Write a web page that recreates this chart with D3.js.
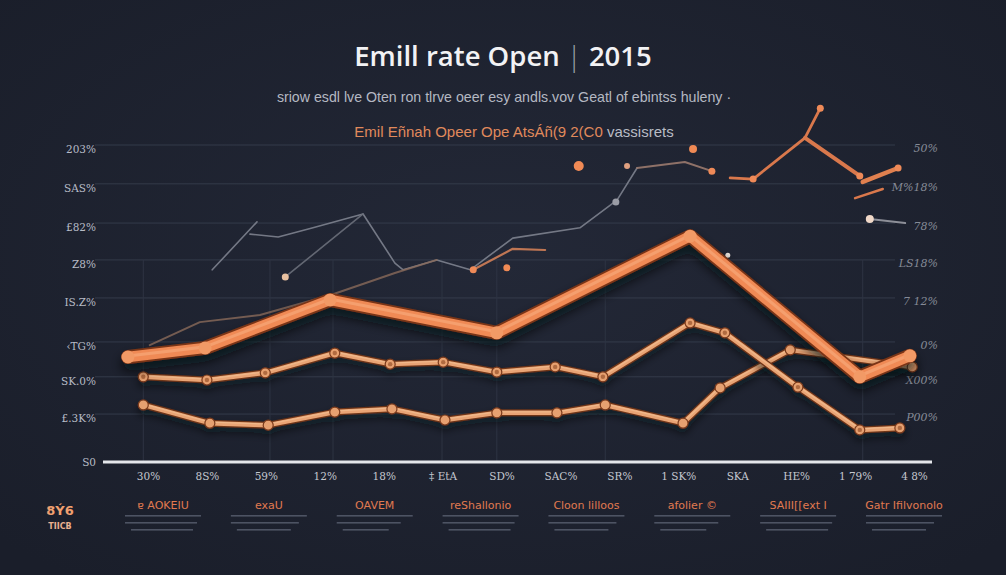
<!DOCTYPE html>
<html><head><meta charset="utf-8">
<script src="https://cdn.jsdelivr.net/npm/d3@7"></script>
<style>
html,body{margin:0;padding:0;background:#1e2230;}
svg{display:block;}
</style></head>
<body>
<svg id="c" width="1006" height="575"></svg>
<script>
// ---------- data ----------
const titleMain = "Emill rate Open";
const titleYear = "2015";
const subtitle = "sriow esdl lve Oten ron tlrve oeer esy andls.vov Geatl of ebintss huleny ·";
const legendOrange = "Emil Eñnah Opeer Ope AtsÁñ(9 2(C0";
const legendGray = " vassisrets";

const xTickLabels = ["30%","8S%","59%","12%","18%","‡ EtA","SD%","SAC%","SR%","1 SK%","SKA","HE%","1 79%","4 8%"];
const yGridValues = [12.1, 21.5, 30.3, 41.4, 51, 60.3, 70.2, 80];
const yLeftLabels = ["£.3K%","SK.0%","‹TG%","IS.Z%","Z8%","£82%","SAS%","203%"];
const yRightLabels = ["P00%","X00%","0%","7 12%","LS18%","78%","M%18%","50%"];
const yZeroLabel = "S0";
const vGridIdx = [-0.08, 2.07, 3.14, 4.99, 5.92, 7.76, 12.13];

const categories = ["ɐ AOKEIU","exaU","OAVEM","reShallonio","Cloon lilloos","afolier ©","SAIII[[ext I","Gatr Ifilvonolo"];
const cornerTop = "8Ý6", cornerBottom = "TIICB";

// main series: [index, value]
const seriesA = [[-0.34,26.5],[0.97,28.8],[3.09,40.9],[5.92,32.6],[9.2,57.0],[12.08,21.5],[12.93,26.8]];
const seriesB = [[-0.08,21.5],[1.0,20.7],[1.99,22.5],[3.17,27.5],[4.11,24.7],[5.01,25.2],[5.92,22.7],[6.91,24.0],[7.72,21.5],[9.2,35.1],[9.79,32.6],[11.03,18.9],[12.08,8.1],[12.76,8.6]];
const seriesC = [[-0.08,14.4],[1.05,9.8],[2.04,9.3],[3.17,12.6],[4.14,13.4],[5.04,10.6],[5.92,12.4],[6.94,12.4],[7.76,14.4],[9.08,9.8],[9.71,18.7],[10.9,28.3],[12.97,24.0]];

// faint fragments
const grayD1 = [[1.09,48.5],[1.85,60.6]];
const grayD2 = [[1.73,57.5],[2.21,56.8],[2.80,59.1],[3.65,62.6],[4.19,50.2],[4.33,48.5],[4.90,51.0],[5.47,48.5],[6.19,56.5],[7.33,59.1],[7.96,66.1],[8.30,74.2]];
const grayG = [[2.33,46.7],[3.65,62.6]];
const brownF = [[0.03,29.5],[0.88,35.3],[1.90,37.1],[3.09,42.1],[4.19,47.7],[4.90,51.0]];
const orangeH = [[5.52,48.5],[6.19,53.8],[6.74,53.5]];
const grayI = [[8.30,74.2],[9.11,75.7],[9.57,73.4]];
const orangeE1 = [[9.88,71.7],[10.27,71.4],[11.15,81.8],[11.41,89.3]];
const orangeE2 = [[11.15,81.8],[12.08,72.2]];
const orangeE3 = [[12.13,70.7],[12.73,74.2]];
const orangeE4 = [[12.0,66.6],[12.47,68.9]];
const whiteJ = [[12.25,61.3],[12.85,60.3]];
const looseDots = [[7.31,74.7,"#f08a55",5],[9.25,79.0,"#f08a55",4],[8.13,74.7,"#e0a080",3],[7.94,65.6,"#9a9ca5",3.5],[6.09,49.0,"#f08a55",3.5],[9.84,52.2,"#e8e0d8",2.5],[2.33,46.7,"#e8c0a0",3.5],[12.25,61.3,"#f0d8c8",4]];

// ---------- drawing ----------
const W = 1006, H = 575;
const svg = d3.select("#c");
const defs = svg.append("defs");

const bg = defs.append("radialGradient").attr("id","bg").attr("cx","50%").attr("cy","45%").attr("r","70%");
bg.append("stop").attr("offset","0%").attr("stop-color","#232837");
bg.append("stop").attr("offset","100%").attr("stop-color","#1a1e2a");
svg.append("rect").attr("width",W).attr("height",H).attr("fill","url(#bg)");

const sh = defs.append("filter").attr("id","shadow").attr("x","-10%").attr("y","-30%").attr("width","120%").attr("height","180%");
sh.append("feDropShadow").attr("dx",0).attr("dy",7).attr("stdDeviation",6).attr("flood-color","#05070c").attr("flood-opacity",0.75);
const sh2 = defs.append("filter").attr("id","shadow2").attr("x","-10%").attr("y","-30%").attr("width","120%").attr("height","180%");
sh2.append("feDropShadow").attr("dx",0).attr("dy",5).attr("stdDeviation",4).attr("flood-color","#05070c").attr("flood-opacity",0.6);

const x = d3.scaleLinear().domain([0,13]).range([148,914]);
const y = d3.scaleLinear().domain([0,80]).range([462,145]);
const line = d3.line().x(d=>x(d[0])).y(d=>y(d[1]));

// title
const t = svg.append("text").attr("x",503).attr("y",66).attr("text-anchor","middle")
  .attr("font-family","'Open Sans', sans-serif").attr("font-size",27.5).attr("font-weight",600).attr("fill","#f2f2f4");
t.append("tspan").text(titleMain);
t.append("tspan").attr("fill","#9aa0ab").attr("font-weight",300).text(" | ");
t.append("tspan").text(titleYear);

svg.append("text").attr("x",504).attr("y",102).attr("text-anchor","middle")
  .attr("font-family","'Liberation Sans', sans-serif").attr("font-size",14.2).attr("fill","#b4b8c2").text(subtitle);

const lg = svg.append("text").attr("x",514).attr("y",137).attr("text-anchor","middle")
  .attr("font-family","'Liberation Sans', sans-serif").attr("font-size",15);
lg.append("tspan").attr("fill","#e08a5c").text(legendOrange);
lg.append("tspan").attr("fill","#b9bcc5").text(legendGray);

// grid
svg.append("g").selectAll("line").data(yGridValues).join("line")
  .attr("x1",95).attr("x2",895).attr("y1",d=>y(d)).attr("y2",d=>y(d))
  .attr("stroke","#394050").attr("stroke-width",1).attr("opacity",0.8);
svg.append("g").selectAll("line").data(vGridIdx).join("line")
  .attr("x1",d=>x(d)).attr("x2",d=>x(d)).attr("y1",y(51)).attr("y2",y(0))
  .attr("stroke","#2e3443").attr("stroke-width",1);

// left axis labels
const leftAx = d3.axisLeft(y).tickValues(yGridValues).tickSize(0).tickFormat((d,i)=>yLeftLabels[i]);
const la = svg.append("g").attr("transform","translate(96,4)").call(leftAx);
la.select(".domain").remove();
la.selectAll("text").attr("font-family","'DejaVu Serif', serif").attr("font-size",10.5).attr("fill","#b7bbc6").attr("x",0);
svg.append("text").attr("x",96).attr("y",y(0)+4).attr("text-anchor","end")
  .attr("font-family","'DejaVu Serif', serif").attr("font-size",10.5).attr("fill","#b7bbc6").text(yZeroLabel);

// right axis labels
const rightAx = d3.axisLeft(y).tickValues(yGridValues).tickSize(0).tickFormat((d,i)=>yRightLabels[i]);
const ra = svg.append("g").attr("transform","translate(938,3)").call(rightAx);
ra.select(".domain").remove();
ra.selectAll("text").attr("font-family","'DejaVu Serif', serif").attr("font-style","italic").attr("font-size",11).attr("fill","#858a96").attr("x",0);

// baseline
svg.append("line").attr("x1",103).attr("x2",932).attr("y1",y(0)).attr("y2",y(0))
  .attr("stroke","#e4e6ea").attr("stroke-width",3);

// x tick labels
const xAx = d3.axisBottom(x).tickValues(d3.range(14)).tickSize(0).tickFormat((d,i)=>xTickLabels[i]);
const xa = svg.append("g").attr("transform",`translate(0,${y(0)+8})`).call(xAx);
xa.select(".domain").remove();
xa.selectAll("text").attr("font-family","'DejaVu Serif', serif").attr("font-size",10.5).attr("fill","#c4c7cf");

// category labels
const cx = d3.scalePoint().domain(categories).range([163,904]);
const cg = svg.append("g");
categories.forEach((c,i)=>{
  const g = cg.append("g").attr("transform",`translate(${cx(c)},0)`);
  g.append("text").attr("y",509).attr("text-anchor","middle")
    .attr("font-family","'DejaVu Sans', sans-serif").attr("font-size",11).attr("fill","#e07a50").text(c);
  [[-38,38,515],[-38,34,522],[-32,30,529]].forEach((r,j)=>{
    g.append("rect").attr("x",r[0]).attr("y",r[2]).attr("width",r[1]-r[0] - (i%3)*4*j).attr("height",1.6)
      .attr("fill","#4d5363");
  });
});
svg.append("text").attr("x",60).attr("y",515).attr("text-anchor","middle")
  .attr("font-family","'DejaVu Sans', sans-serif").attr("font-weight","bold").attr("font-size",13).attr("fill","#f0a070").text(cornerTop);
svg.append("text").attr("x",60).attr("y",529).attr("text-anchor","middle")
  .attr("font-family","'DejaVu Sans', sans-serif").attr("font-weight","bold").attr("font-size",8).attr("fill","#e8b090").text(cornerBottom);

// faint fragments
function thin(data, color, w, op){
  svg.append("path").datum(data).attr("d",line).attr("fill","none")
    .attr("stroke",color).attr("stroke-width",w).attr("opacity",op)
    .attr("stroke-linejoin","round").attr("stroke-linecap","round");
}
thin(grayD1,"#7d828e",1.6,0.9);
thin(grayD2,"#7d828e",1.6,0.9);
thin(grayG,"#6a6f7a",1.6,0.9);
thin(brownF,"#8a6a5a",2,0.8);
thin(orangeH,"#c87a55",2.2,0.95);
thin(grayI,"#9a7a6e",2,0.9);
thin(orangeE1,"#d9784c",2.8,1);
thin(orangeE2,"#d9784c",4,1);
thin(orangeE3,"#e0804f",4.5,1);
thin(orangeE4,"#d9784c",2.5,1);
thin(whiteJ,"#8d8f98",2,1);

svg.append("g").selectAll("circle").data(looseDots).join("circle")
  .attr("cx",d=>x(d[0])).attr("cy",d=>y(d[1])).attr("r",d=>d[3]).attr("fill",d=>d[2]);
svg.append("g").selectAll("circle").data([orangeE1[1],orangeE1[3],orangeE2[1],orangeE3[1],orangeH[0],grayI[2]]).join("circle")
  .attr("cx",d=>x(d[0])).attr("cy",d=>y(d[1])).attr("r",3.5).attr("fill","#ef8a58");

// tube-like lines
function tube(data, outer, inner, hi, wo, wi, filt){
  const g = svg.append("g").attr("filter",`url(#${filt})`);
  g.append("path").datum(data).attr("d",line).attr("fill","none").attr("stroke",outer)
    .attr("stroke-width",wo).attr("stroke-linejoin","round").attr("stroke-linecap","round");
  g.append("path").datum(data).attr("d",line).attr("fill","none").attr("stroke",inner)
    .attr("stroke-width",wi).attr("stroke-linejoin","round").attr("stroke-linecap","round");
  g.append("path").datum(data).attr("d",line).attr("fill","none").attr("stroke",hi)
    .attr("stroke-width",wi*0.3).attr("opacity",0.5).attr("transform","translate(0,-1)")
    .attr("stroke-linejoin","round").attr("stroke-linecap","round");
  return g;
}
const gC = tube(seriesC,"#6e3418","#e9a474","#f6c9a0",7,4.5,"shadow2");
gC.selectAll("circle").data(seriesC).join("circle").attr("cx",d=>x(d[0])).attr("cy",d=>y(d[1]))
  .attr("r",5).attr("fill","#e6a070").attr("stroke","#7a3a1c").attr("stroke-width",1.2);
const gB = tube(seriesB,"#6e3418","#e9a474","#f6c9a0",7,4.5,"shadow2");
gB.selectAll("circle").data(seriesB).join("circle").attr("cx",d=>x(d[0])).attr("cy",d=>y(d[1]))
  .attr("r",5).attr("fill","#e6a070").attr("stroke","#7a3a1c").attr("stroke-width",1.2);
gB.selectAll("circle.in").data(seriesB).join("circle").attr("class","in").attr("cx",d=>x(d[0])).attr("cy",d=>y(d[1]))
  .attr("r",2.2).attr("fill","#b06a40");
const gA = tube(seriesA,"#7a3518","#f08a55","#f9b487",14,10.5,"shadow");
gA.selectAll("circle").data(seriesA).join("circle").attr("cx",d=>x(d[0])).attr("cy",d=>y(d[1]))
  .attr("r",6.5).attr("fill","#f29a66");
</script>
</body></html>
